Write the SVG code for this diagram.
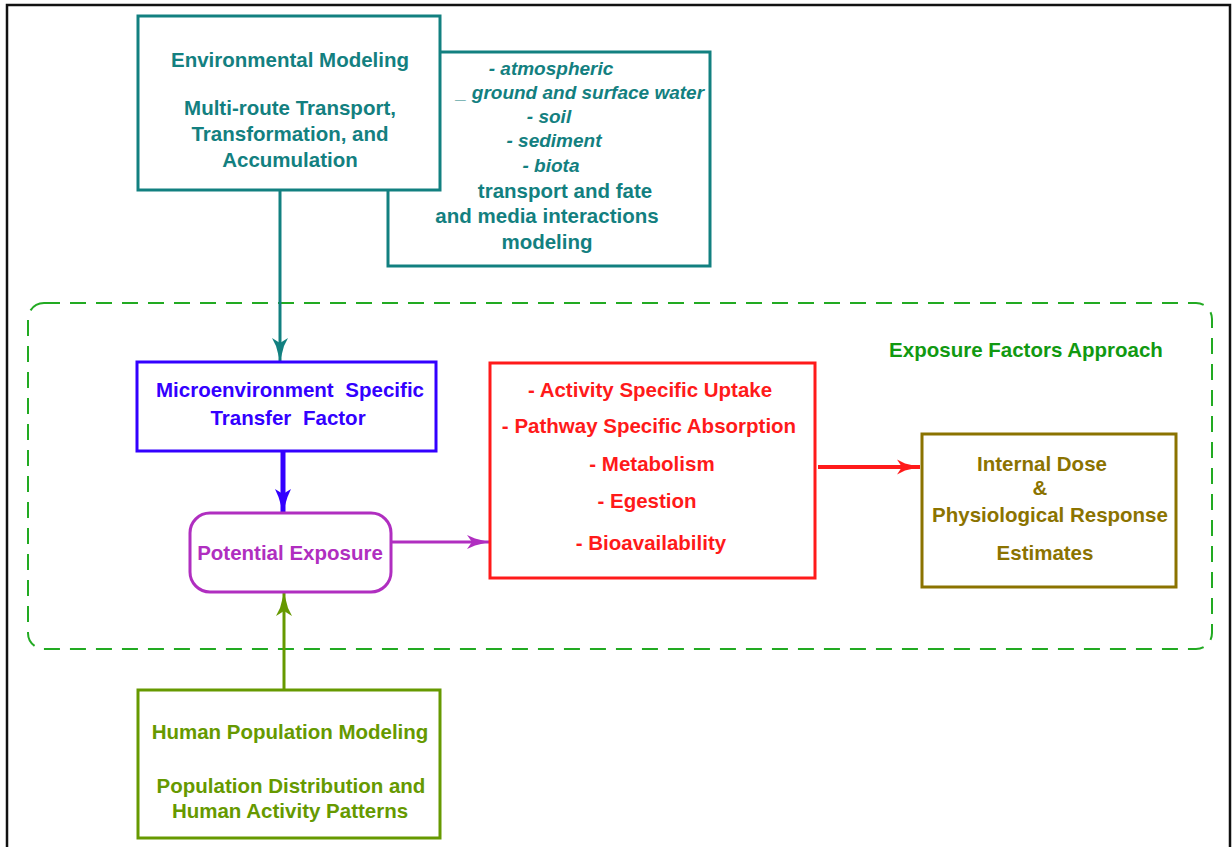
<svg xmlns="http://www.w3.org/2000/svg" width="1232" height="847" viewBox="0 0 1232 847">
  <style>
    text { font-family: "Liberation Sans", Arial, sans-serif; font-weight: bold; font-size: 20.5px; text-anchor: middle; }
    .box { fill: #fff; stroke-width: 3; }
    .teal { fill: #138080; }
    .it { font-style: italic; font-size: 19px; }
    .conn { fill: none; }
  </style>
  <defs>
    <marker id="ah-teal" viewBox="-1 -9 26 18" refX="23" refY="0" markerWidth="26" markerHeight="18" markerUnits="userSpaceOnUse" orient="auto">
      <path d="M0,-8 L8,-4 L23,0 L8,4 L0,8 L5,0 Z" fill="#128080"/>
    </marker>
    <marker id="ah-blue" viewBox="-1 -9 26 18" refX="23" refY="0" markerWidth="26" markerHeight="18" markerUnits="userSpaceOnUse" orient="auto">
      <path d="M0,-8 L8,-4.5 L23,0 L8,4.5 L0,8 L5,0 Z" fill="#3300ff"/>
    </marker>
    <marker id="ah-mag" viewBox="-1 -9 26 18" refX="22" refY="0" markerWidth="26" markerHeight="18" markerUnits="userSpaceOnUse" orient="auto">
      <path d="M0,-7 L8,-3.5 L22,0 L8,3.5 L0,7 L5,0 Z" fill="#b02ec0"/>
    </marker>
    <marker id="ah-red" viewBox="-1 -9 26 18" refX="23" refY="0" markerWidth="26" markerHeight="18" markerUnits="userSpaceOnUse" orient="auto">
      <path d="M0,-7.5 L8,-3.5 L23,0 L8,3.5 L0,7.5 L5,0 Z" fill="#ff1a1a"/>
    </marker>
    <marker id="ah-green" viewBox="-1 -9 26 18" refX="23" refY="0" markerWidth="26" markerHeight="18" markerUnits="userSpaceOnUse" orient="auto">
      <path d="M0,-8 L8,-4 L23,0 L8,4 L0,8 L5,0 Z" fill="#669900"/>
    </marker>
  </defs>

  <rect width="1232" height="847" fill="#fff"/>
  <!-- outer frame -->
  <path d="M7,847 V5 H1230 V847" fill="none" stroke="#111" stroke-width="2.5"/>

  <!-- exposure factors approach boundary -->
  <g id="approach">
    <rect x="28" y="303" width="1184" height="346" rx="16" ry="16" fill="none" stroke="#22aa22" stroke-width="2" stroke-dasharray="16 10"/>
    <text x="1026" y="357" fill="#119911">Exposure Factors Approach</text>
  </g>

  <!-- media list box (sits behind the environmental modeling box) -->
  <g id="media">
    <rect class="box" x="388" y="52" width="322" height="214" stroke="#128080"/>
    <text class="teal it" x="551" y="75">- atmospheric</text>
    <text class="teal it" x="580" y="99">_ ground and surface water</text>
    <text class="teal it" x="549" y="123">- soil</text>
    <text class="teal it" x="554" y="147">- sediment</text>
    <text class="teal it" x="551" y="172">- biota</text>
    <text class="teal" x="565" y="198">transport and fate</text>
    <text class="teal" x="547" y="223">and media interactions</text>
    <text class="teal" x="547" y="249">modeling</text>
  </g>

  <g id="environmental">
    <rect class="box" x="138" y="16" width="302" height="174" stroke="#128080"/>
    <text class="teal" x="290" y="67">Environmental Modeling</text>
    <text class="teal" x="290" y="115">Multi-route Transport,</text>
    <text class="teal" x="290" y="141">Transformation, and</text>
    <text class="teal" x="290" y="167">Accumulation</text>
  </g>

  <g id="connectors" class="conn">
    <line x1="280" y1="190" x2="280" y2="361" stroke="#128080" stroke-width="3" marker-end="url(#ah-teal)"/>
    <line x1="283" y1="452" x2="283" y2="512" stroke="#3300ff" stroke-width="5" marker-end="url(#ah-blue)"/>
    <line x1="284" y1="690" x2="284" y2="593" stroke="#669900" stroke-width="3" marker-end="url(#ah-green)"/>
    <line x1="391" y1="542" x2="489" y2="542" stroke="#b02ec0" stroke-width="3" marker-end="url(#ah-mag)"/>
    <line x1="818" y1="467" x2="920" y2="467" stroke="#ff1a1a" stroke-width="4" marker-end="url(#ah-red)"/>
  </g>

  <g id="microenvironment">
    <rect class="box" x="137" y="362" width="299" height="89" stroke="#3300ff"/>
    <text x="290" y="397" fill="#3300ff" word-spacing="6">Microenvironment Specific</text>
    <text x="288" y="425" fill="#3300ff" word-spacing="6">Transfer Factor</text>
  </g>

  <g id="potential">
    <rect class="box" x="190" y="513" width="201" height="79" rx="20" ry="20" stroke="#b02ec0"/>
    <text x="290" y="560" fill="#b02ec0">Potential Exposure</text>
  </g>

  <g id="uptake">
    <rect class="box" x="490" y="363" width="325" height="215" stroke="#ff1a1a"/>
    <text x="650" y="397" fill="#ff1a1a">- Activity Specific Uptake</text>
    <text x="649" y="433" fill="#ff1a1a">- Pathway Specific Absorption</text>
    <text x="652" y="471" fill="#ff1a1a">- Metabolism</text>
    <text x="647" y="508" fill="#ff1a1a">- Egestion</text>
    <text x="651" y="550" fill="#ff1a1a">- Bioavailability</text>
  </g>

  <g id="dose">
    <rect class="box" x="922" y="434" width="254" height="153" stroke="#8b7300"/>
    <text x="1042" y="471" fill="#8b7300">Internal Dose</text>
    <text x="1040" y="495" fill="#8b7300">&amp;</text>
    <text x="1050" y="522" fill="#8b7300">Physiological Response</text>
    <text x="1045" y="560" fill="#8b7300">Estimates</text>
  </g>

  <g id="population">
    <rect class="box" x="138" y="690" width="302" height="148" stroke="#669900"/>
    <text x="290" y="739" fill="#669900">Human Population Modeling</text>
    <text x="291" y="793" fill="#669900">Population Distribution and</text>
    <text x="290" y="818" fill="#669900">Human Activity Patterns</text>
  </g>
</svg>
